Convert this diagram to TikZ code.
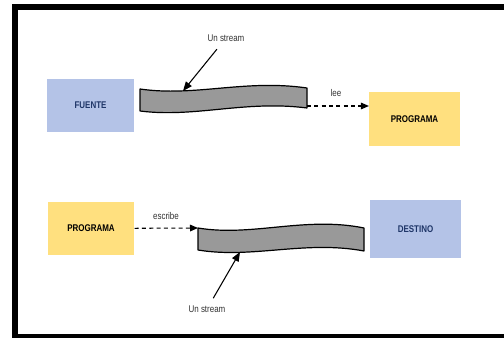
\documentclass[tikz,border=0pt]{standalone}
\usepackage{fontspec}
\newfontfamily\narrowsans[FakeStretch=0.82]{Liberation Sans}
\usetikzlibrary{arrows.meta, positioning, calc}

\definecolor{srcblue}{HTML}{B4C3E7}
\definecolor{srcink}{HTML}{1F3668}
\definecolor{progyellow}{HTML}{FFE07F}
\definecolor{streamgray}{HTML}{999999}

\begin{document}
\begin{tikzpicture}[x=0.75pt, y=-0.75pt,
        endpoint/.style={rectangle, fill=srcblue, text=srcink, minimum width=65pt, minimum height=40pt, font=\narrowsans\bfseries\fontsize{7.3}{8}\selectfont},
        prog/.style={endpoint, fill=progyellow, text=black},
        stream/.style={draw=black, fill=streamgray, line width=0.9pt, line join=round},
        pointer/.style={-{Triangle[length=7pt, width=5.5pt]}, line width=0.8pt},
        flow/.style={-{Triangle[length=6pt, width=5pt]}, dash pattern=on 3pt off 2.5pt, line width=0.8pt},
        tag/.style={font=\narrowsans\fontsize{7.3}{8}\selectfont, text=black!80, inner sep=1pt}
    ]
        % Frame
        \useasboundingbox (0,0) rectangle (504,338);
        \fill[black] (12,4) rectangle (504,338);
        \fill[white] (18,10) rectangle (504,334.5);

        % ROW 1: reading
        \node[endpoint] (fuente) at (90.5,105.5) {FUENTE};
        \node[prog, minimum width=68pt, minimum height=40.5pt] (lector) at (414.5,119) {PROGRAMA};

        \draw[stream] (140,89) .. controls (195,97) and (245,79) .. (307,88) -- (307,108)
            .. controls (245,100) and (195,118) .. (140,111) -- cycle;
        \coordinate (s1top) at (183,91);
        \coordinate (s1out) at (307,106);

        \node[tag] (tag1) at (226,38) {Un stream};
        \draw[pointer, shorten <=6pt] (tag1) -- (s1top);

        \node[tag] (lee) at (336,93) {lee};
        \draw[flow] (s1out) -- (s1out -| lector.west);

        % ROW 2: writing
        \node[prog] (escritor) at (91,228.5) {PROGRAMA};
        \node[endpoint, minimum width=68pt, minimum height=43.5pt] (destino) at (415.5,229) {DESTINO};

        \draw[stream] (198,228) .. controls (252,237) and (305,216) .. (364,228) -- (364,251)
            .. controls (305,240) and (252,259) .. (198,250) -- cycle;
        \coordinate (s2in) at (198,228);
        \coordinate (s2bot) at (240,252);

        \node[tag] (escribe) at (166,216) {escribe};
        \draw[flow] (escritor) -- (s2in);

        \node[tag] (tag2) at (207,309) {Un stream};
        \draw[pointer, shorten <=5pt] (tag2) -- (s2bot);
    \end{tikzpicture}
\end{document}
